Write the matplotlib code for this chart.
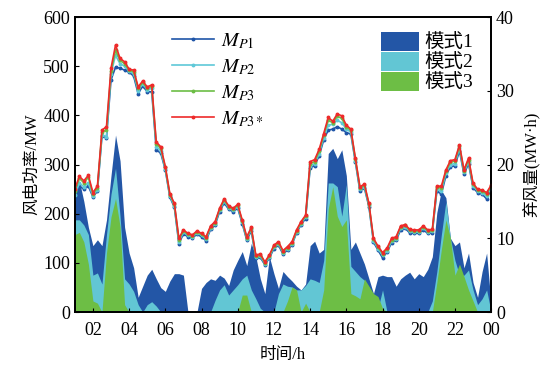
import matplotlib.pyplot as plt
import numpy as np

plt.rcParams["font.family"] = ["Liberation Serif", "Noto Sans CJK SC"]
plt.rcParams["mathtext.fontset"] = "stix"

# 15-min samples from 01:00 to 24:00
hours = np.arange(93) * 0.25 + 1.0

mp3s = [250, 276, 267, 278, 243, 256, 370, 377, 496, 543, 516, 509, 494, 492, 458, 470,
        458, 462, 346, 336, 296, 241, 221, 150, 167, 160, 157, 165, 160, 153, 175, 184,
        211, 230, 216, 211, 219, 187, 153, 172, 116, 118, 102, 116, 136, 143, 125, 133,
        143, 167, 184, 197, 306, 310, 331, 363, 396, 388, 403, 399, 380, 372, 313, 255,
        260, 221, 150, 134, 121, 130, 150, 153, 175, 178, 168, 167, 167, 175, 167, 168,
        256, 256, 289, 308, 310, 340, 289, 313, 262, 250, 248, 243, 258]
mp3 = [246, 272, 263, 274, 240, 253, 366, 370, 490, 532, 512, 505, 492, 489, 455, 467,
       455, 459, 342, 333, 294, 239, 219, 147, 165, 158, 155, 163, 158, 151, 173, 182,
       209, 228, 214, 209, 217, 185, 151, 170, 114, 116, 100, 114, 134, 141, 123, 131,
       141, 165, 182, 195, 302, 306, 327, 360, 390, 385, 398, 394, 376, 370, 311, 253,
       258, 219, 148, 132, 119, 128, 147, 151, 173, 176, 166, 165, 165, 173, 165, 166,
       254, 252, 286, 305, 307, 337, 287, 310, 260, 248, 246, 240, 256]
mp2 = [238, 262, 255, 262, 236, 249, 360, 357, 485, 522, 505, 500, 490, 485, 450, 464,
       452, 455, 336, 328, 291, 236, 216, 143, 162, 156, 153, 161, 156, 148, 170, 180,
       207, 225, 212, 207, 214, 183, 149, 168, 112, 114, 98, 112, 132, 139, 121, 129,
       139, 163, 180, 193, 297, 302, 322, 355, 380, 382, 390, 385, 372, 366, 308, 250,
       255, 217, 145, 129, 115, 125, 144, 149, 170, 173, 164, 163, 163, 170, 163, 164,
       250, 246, 282, 300, 302, 333, 284, 306, 257, 246, 243, 235, 253]
mp1 = [232, 256, 250, 256, 234, 246, 358, 355, 472, 498, 496, 492, 488, 480, 444, 460,
       448, 448, 330, 323, 289, 234, 213, 139, 159, 153, 151, 158, 153, 145, 168, 177,
       204, 222, 209, 204, 211, 180, 146, 165, 109, 111, 96, 110, 129, 136, 118, 126,
       137, 161, 178, 190, 293, 298, 318, 350, 370, 372, 377, 372, 365, 362, 305, 246,
       252, 214, 142, 126, 110, 122, 141, 146, 167, 170, 161, 160, 160, 167, 160, 161,
       246, 240, 277, 296, 297, 328, 280, 302, 253, 243, 240, 230, 250]

# curtailment (MW·h) for each mode
mode1 = [17.0, 17.8, 15.0, 11.5, 9.0, 9.8, 9.0, 12.5, 18.5, 24.0, 20.5, 11.5, 8.0, 6.0, 2.0, 3.5,
         5.0, 5.8, 4.5, 3.3, 2.8, 4.2, 5.2, 5.2, 5.0, 0.0, 0.0, 0.0, 3.2, 4.0, 4.5, 4.3,
         5.0, 4.6, 3.6, 5.7, 7.0, 8.2, 6.3, 9.3, 7.5, 4.5, 2.5, 7.5, 5.2, 3.2, 5.5, 4.8,
         4.2, 3.5, 3.0, 3.8, 9.0, 9.6, 8.0, 8.5, 21.5, 22.2, 20.8, 22.0, 18.5, 8.5, 9.5, 8.0,
         6.5, 4.5, 2.5, 4.8, 5.0, 4.8, 4.8, 3.5, 4.5, 5.0, 5.4, 4.5, 5.2, 4.8, 5.8, 7.5,
         13.5, 16.5, 15.5, 10.0, 9.0, 9.5, 6.0, 8.0, 4.0, 2.0, 5.5, 8.0, 1.0]
mode2 = [12.5, 12.5, 11.8, 10.5, 5.0, 5.3, 3.8, 10.5, 16.0, 19.5, 13.0, 4.5, 3.8, 2.8, 1.0, 0.0,
         1.0, 1.4, 0.8, 0.0, 0.0, 0.0, 0.0, 0.0, 0.0, 0.0, 0.0, 0.0, 0.0, 0.0, 0.0, 1.6,
         3.0, 3.7, 2.3, 3.0, 3.7, 4.5, 5.0, 3.0, 1.8, 0.5, 0.0, 0.0, 0.0, 2.5, 3.8, 3.5,
         3.4, 3.0, 3.0, 3.6, 4.5, 4.3, 4.0, 7.0, 17.5, 17.5, 17.0, 13.0, 17.3, 6.2, 5.5, 4.8,
         4.3, 3.3, 1.5, 0.5, 3.0, 0.0, 0.0, 0.0, 0.0, 0.0, 0.0, 0.0, 0.0, 0.0, 0.0, 1.5,
         5.5, 10.5, 15.0, 10.0, 7.0, 5.0, 5.0, 5.7, 3.0, 1.0, 1.8, 3.0, 0.0]
mode3 = [10.5, 10.8, 9.5, 6.5, 1.5, 1.2, 0.0, 8.0, 12.9, 15.4, 11.6, 1.0, 0.0, 0.0, 0.0, 0.0,
         0.0, 0.0, 0.0, 0.0, 0.0, 0.0, 0.0, 0.0, 0.0, 0.0, 0.0, 0.0, 0.0, 0.0, 0.0, 0.0,
         0.0, 0.0, 0.0, 0.0, 0.0, 2.3, 2.3, 0.0, 0.0, 0.0, 0.0, 0.0, 0.0, 0.0, 0.0, 1.5,
         3.4, 3.0, 0.0, 1.2, 0.0, 0.0, 0.0, 3.0, 14.0, 17.0, 13.0, 11.6, 12.5, 2.5, 2.2, 1.8,
         4.5, 3.5, 2.5, 2.1, 0.5, 0.0, 0.0, 0.0, 0.0, 0.0, 0.0, 0.0, 0.0, 0.0, 0.0, 0.0,
         4.0, 8.5, 12.5, 10.0, 5.0, 6.5, 4.8, 3.0, 1.5, 0.0, 0.0, 0.0, 0.0]

xticks = [2, 4, 6, 8, 10, 12, 14, 16, 18, 20, 22, 24]
xticklabels = ["02", "04", "06", "08", "10", "12", "14", "16", "18", "20", "22", "00"]

line_colors = ["#1f55a8", "#5fc8d8", "#6cbd45", "#ee2a2a"]
area_colors = ["#2356a6", "#62c6d4", "#6dbe45"]

fig = plt.figure(figsize=(5.5, 3.71), dpi=100)
ax = fig.add_axes([0.136, 0.159, 0.757, 0.795])
ax2 = ax.twinx()

for vals, c, lab in zip([mode1, mode2, mode3], area_colors, ["模式1", "模式2", "模式3"]):
    ax2.fill_between(hours, 0, vals, color=c, linewidth=0, label=lab)

labels = [r"$M_{P1}$", r"$M_{P2}$", r"$M_{P3}$", r"$M_{P3*}$"]
for vals, c, lab in zip([mp1, mp2, mp3, mp3s], line_colors, labels):
    ax.plot(hours, vals, color=c, lw=1.2, marker="o", ms=1.8, label=lab)

ax.set_zorder(ax2.get_zorder() + 1)
ax.patch.set_visible(False)

ax.set_xlim(1, 24)
ax.set_ylim(0, 600)
ax2.set_ylim(0, 40)
ax.set_xticks(xticks)
ax.set_xticklabels(xticklabels)
ax.set_yticks(range(0, 601, 100))
ax2.set_yticks(range(0, 41, 10))

for a in (ax, ax2):
    a.tick_params(direction="in", labelsize=13, length=3, width=0.8)
    for s in a.spines.values():
        s.set_linewidth(1.3)
ax.tick_params(axis="x", pad=7)

ax.set_xlabel("时间/h", fontsize=12, labelpad=6)
ax.set_ylabel("风电功率/MW", fontsize=12, labelpad=2)
ax2.set_ylabel("弃风量(MW·h)", fontsize=12, labelpad=6)

ax.legend(loc="upper left", bbox_to_anchor=(0.2, 1.0), frameon=False, fontsize=14.5,
          numpoints=1, handlelength=2.1, handletextpad=0.3, labelspacing=0.32,
          borderaxespad=0.3)
ax2.legend(loc="upper right", bbox_to_anchor=(1.0, 1.01), frameon=False, fontsize=14,
           handlelength=1.95, handleheight=1.15, labelspacing=0.0, handletextpad=0.3)

fig.savefig("out.png", dpi=100)
